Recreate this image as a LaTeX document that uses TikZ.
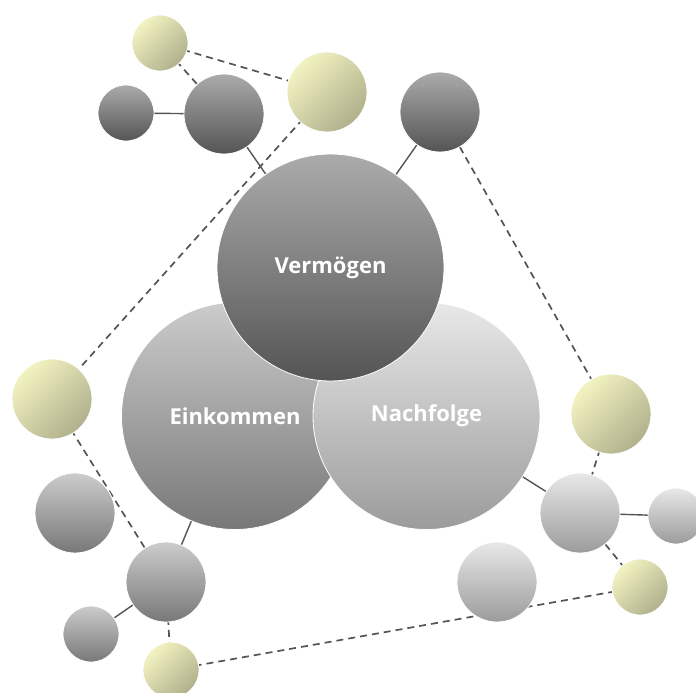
\documentclass[tikz,border=0pt]{standalone}
\usepackage{fontspec}
\setmainfont{Open Sans}
\pgfdeclarelayer{background}
\pgfsetlayers{background,main}
\definecolor{yhi}{HTML}{F3F3C2}
\definecolor{ylo}{HTML}{B0B08C}
\begin{document}
\begin{tikzpicture}[x=1pt,y=-1pt,
  ball/.style={circle,inner sep=0pt,outer sep=0pt,draw=white,line width=0.8pt},
  big/.style={ball,minimum size=227pt,font=\bfseries\fontsize{22}{26}\selectfont,text=white},
  mid/.style={ball,minimum size=80pt},
  sml/.style={ball,minimum size=56pt},
  dk/.style={top color=black!33,middle color=black!50,bottom color=black!67},
  md/.style={top color=black!20,middle color=black!33,bottom color=black!53},
  lt/.style={top color=black!9,middle color=black!12,bottom color=black!39},
  yl/.style={top color=yhi,bottom color=ylo,shading angle=45},
  solidline/.style={draw=black!67,line width=1.4pt},
  dashline/.style={draw=black!67,line width=1.7pt,dash pattern=on 7pt off 5pt}]
\useasboundingbox (0,0) rectangle (696,693);
% small nodes
\node[sml,yl] (A) at (160,43) {};
\node[sml,dk] (B) at (126,113) {};
\node[mid,dk] (C) at (224,114) {};
\node[mid,yl] (D) at (327,92) {};
\node[mid,dk] (E) at (440,112) {};
\node[mid,yl] (F) at (52,399) {};
\node[mid,md] (G) at (75,513) {};
\node[mid,md] (H) at (166,582) {};
\node[sml,md] (I) at (91,634) {};
\node[sml,yl] (J) at (171,670) {};
\node[mid,yl] (K) at (611,414) {};
\node[mid,lt] (L) at (580,513) {};
\node[sml,lt] (M) at (676,516) {};
\node[sml,yl] (N) at (640,587) {};
\node[mid,lt] (O) at (497,582) {};
% big nodes
\node[big,md] (Ein) at (235,416) {Einkommen};
\node[big,lt] (Nach) at (426.5,416) {Nachfolge};
\node[big,dk] (Ver) at (330.5,267.5) {Vermögen};
% connectors behind the circles
\begin{pgfonlayer}{background}
  \draw[dashline] (A.center) -- (D.center);
  \draw[dashline] (A.center) -- (C.center);
  \draw[dashline] (D.center) -- (F.center);
  \draw[dashline] (F.center) -- (H.center);
  \draw[dashline] (H.center) -- (J.center);
  \draw[dashline] (J.center) -- (N.center);
  \draw[dashline] (N.center) -- (L.center);
  \draw[dashline] (L.center) -- (K.center);
  \draw[dashline] (K.center) -- (E.center);
  \draw[solidline] (B.center) -- (C.center);
  \draw[solidline] (C.center) -- (Ver.center);
  \draw[solidline] (E.center) -- (Ver.center);
  \draw[solidline] (Ein.center) -- (H.center);
  \draw[solidline] (H.center) -- (I.center);
  \draw[solidline] (Nach.center) -- (L.center);
  \draw[solidline] (L.center) -- (M.center);
\end{pgfonlayer}
\end{tikzpicture}
\end{document}
